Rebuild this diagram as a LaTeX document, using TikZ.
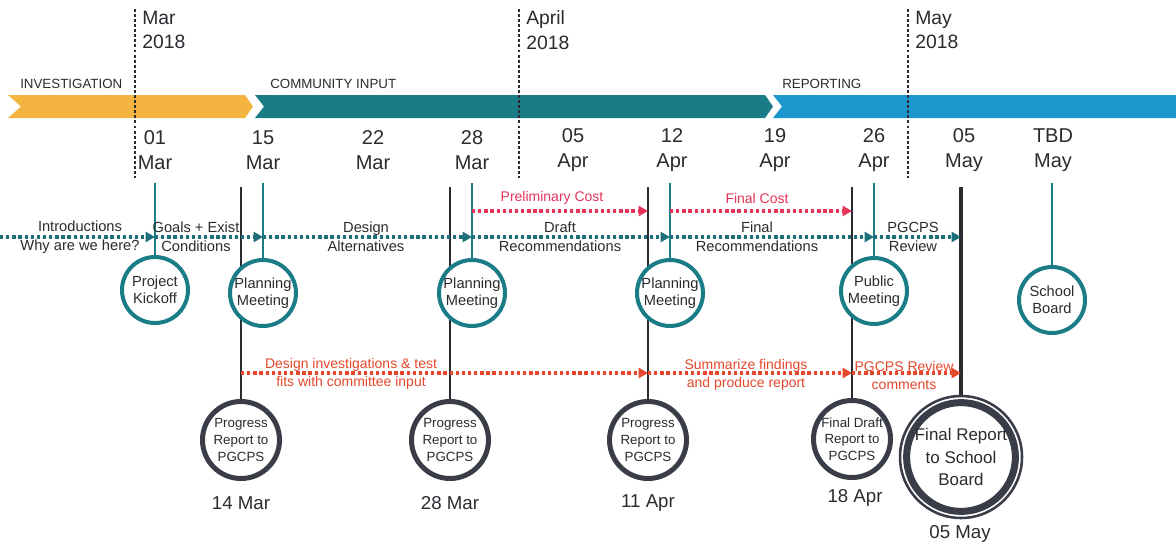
\documentclass[tikz,border=0pt]{standalone}
\usepackage{fontspec}
\setmainfont{Liberation Sans}
\usetikzlibrary{arrows.meta,backgrounds}
\definecolor{gold}{HTML}{F3B53F}
\definecolor{teal1}{HTML}{197C86}
\definecolor{sky}{HTML}{1C97CE}
\definecolor{ink}{HTML}{2A2B30}
\definecolor{slate}{HTML}{3A3C47}
\definecolor{costred}{HTML}{E6335A}
\definecolor{workred}{HTML}{E4472B}
\definecolor{dotteal}{HTML}{1D6F79}
\tikzset{
  meeting/.style={circle, draw=teal1, line width=3pt, fill=white, minimum size=49.5pt,
    inner sep=0pt, align=center, text=ink, font=\fontsize{11}{13}\selectfont},
  report/.style={circle, draw=slate, line width=3.75pt, fill=white, minimum size=57.75pt,
    inner sep=0pt, align=center, text=ink, font=\fontsize{10}{12.4}\selectfont},
  datelbl/.style={align=center, text=ink, font=\fontsize{15}{18.75}\selectfont},
  monthlbl/.style={anchor=west, align=left, inner sep=0pt, text=ink, font=\fontsize{14.5}{18.5}\selectfont},
  phaselbl/.style={anchor=west, inner sep=0pt, text=ink, font=\fontsize{10}{11}\selectfont},
  daylbl/.style={text=ink, font=\fontsize{14}{16}\selectfont},
  monthline/.style={draw=ink, line width=0.8pt, dash pattern=on 2.2pt off 1.6pt},
  tealstem/.style={draw=teal1, line width=1.5pt},
  blackstem/.style={draw=ink, line width=1.6pt},
  dotline/.style={line width=2.5pt, dash pattern=on 2.5pt off 2.1pt,
    -{Triangle[length=7pt,width=7.5pt]}},
  plan/.style={dotline, draw=dotteal, fill=teal1},
  cost/.style={dotline, draw=costred, fill=costred},
  work/.style={dotline, draw=workred, fill=workred},
  planlbl/.style={align=center, text=ink, font=\fontsize{11}{14.25}\selectfont},
  costlbl/.style={text=costred, font=\fontsize{10.5}{12}\selectfont},
  worklbl/.style={align=center, text=workred, font=\fontsize{10.5}{13.5}\selectfont}
}
\begin{document}
\begin{tikzpicture}[x=0.75pt,y=-0.75pt]
\useasboundingbox (0,0) rectangle (1176,550);

\fill[gold] (8,95) -- (245,95) -- (253,106.5) -- (245,118) -- (8,118) -- (21,106.5) -- cycle;
\fill[teal1] (255,95) -- (765,95) -- (773,106.5) -- (765,118) -- (255,118) -- (264,106.5) -- cycle;
\fill[sky] (773,95) -- (1176,95) -- (1176,118) -- (773,118) -- (782,106.5) -- cycle;
\node[phaselbl] (ph1) at (20,84) {INVESTIGATION};
\node[phaselbl] (ph2) at (270,84) {COMMUNITY INPUT};
\node[phaselbl] (ph3) at (782,84) {REPORTING};

\foreach \x/\m in {135/Mar,519/April,908/May}{
  \draw[monthline] (\x,9) -- (\x,178);
  \node[monthlbl] (m\m) at (\x+7,30) {\m\\2018};
}

\foreach \x/\d/\m [count=\i] in {155/01/Mar,263/15/Mar,373/22/Mar,472/28/Mar,573/05/Apr,
    672/12/Apr,775/19/Apr,874/26/Apr,964/05/May,1053/TBD/May}
  \node[datelbl] (d\i) at (\x,150) {\d\\\m};

\node[meeting] (kick) at (155,290) {Project\\Kickoff};
\node[meeting] (pm1) at (263,293) {Planning\\Meeting};
\node[meeting] (pm2) at (472,293) {Planning\\Meeting};
\node[meeting] (pm3) at (670,293) {Planning\\Meeting};
\node[meeting] (pub) at (874,291) {Public\\Meeting};
\node[meeting] (board) at (1052,300) {School\\Board};

\node[report] (rep1) at (241,440) {Progress\\Report to\\PGCPS};
\node[report] (rep2) at (450,440) {Progress\\Report to\\PGCPS};
\node[report] (rep3) at (648,440) {Progress\\Report to\\PGCPS};
\node[report] (rep4) at (852,439) {Final Draft\\Report to\\PGCPS};
\node[circle, draw=slate, line width=1.9pt, fill=white, minimum size=91.5pt, inner sep=0pt] (finring) at (961,457) {};
\node[report, line width=5.25pt, minimum size=77.25pt, font=\fontsize{12.7}{17}\selectfont] (fin) at (finring) {Final Report\\to School\\Board};

\node[daylbl] (day1) at (241,503) {14 Mar};
\node[daylbl] (day2) at (450,503) {28 Mar};
\node[daylbl] (day3) at (648,503) {11 Apr};
\node[daylbl] (day4) at (855,498) {18 Apr};
\node[daylbl] (day5) at (960,534) {05 May};

\begin{scope}[on background layer]
  \coordinate (ttop) at (0,183);
  \coordinate (btop) at (0,187);
  \foreach \n in {kick,pm1,pm2,pm3,pub,board}
    \draw[tealstem] (\n |- ttop) -- (\n);
  \foreach \n in {rep1,rep2,rep3,rep4}
    \draw[blackstem] (\n |- btop) -- (\n);
  \draw[blackstem, line width=3pt] (fin |- btop) -- (fin);
\end{scope}

\coordinate (prow) at (0,237);
\draw[plan] (prow) -- (kick |- prow);
\foreach \a/\b in {kick/pm1,pm1/pm2,pm2/pm3,pm3/pub,pub/fin}
  \draw[plan] (\a |- prow) -- (\b |- prow);
\node[planlbl] (p1) at (80,237) {Introductions\\Why are we here?};
\node[planlbl] (p2) at (196,237) {Goals + Exist\\Conditions};
\node[planlbl] (p3) at (366,237) {Design\\Alternatives};
\node[planlbl] (p4) at (560,237) {Draft\\Recommendations};
\node[planlbl] (p5) at (757,237) {Final\\Recommendations};
\node[planlbl] (p6) at (913,237) {PGCPS\\Review};

\coordinate (crow) at (0,211);
\draw[cost] (pm2 |- crow) -- (rep3 |- crow);
\draw[cost] (pm3 |- crow) -- (rep4 |- crow);
\node[costlbl] (c1) at (552,198) {Preliminary Cost};
\node[costlbl] (c2) at (757,198) {Final Cost};

\coordinate (wrow) at (0,373);
\draw[work] (rep1 |- wrow) -- (rep3 |- wrow);
\draw[work] (rep3 |- wrow) -- (rep4 |- wrow);
\draw[work] (rep4 |- wrow) -- (fin |- wrow);
\node[worklbl] (w1) at (351,374) {Design investigations \& test\\fits with committee input};
\node[worklbl] (w2) at (746,375) {Summarize findings\\and produce report};
\node[worklbl] (w3) at (904,375) {PGCPS Review\\comments};
\end{tikzpicture}
\end{document}
